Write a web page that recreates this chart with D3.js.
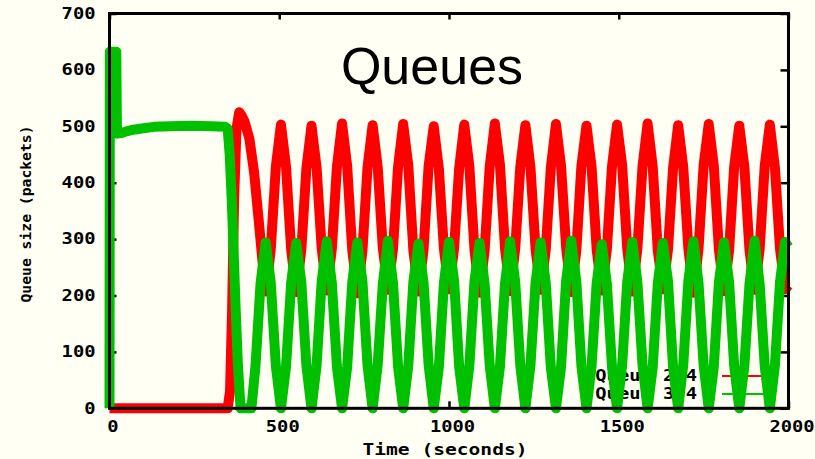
<!DOCTYPE html>
<html>
<head>
<meta charset="utf-8">
<title>Queues</title>
<style>
  body { margin: 0; background: #fffff4; }
  svg { display: block; background: #fffff4; }
  .lbl { font-family: "DejaVu Sans Mono", monospace; font-weight: bold; fill: #000; }
  .title { font-family: "Liberation Sans", Arial, sans-serif; font-size: 52px; fill: #000; }
</style>
</head>
<body>
<svg width="815" height="459"></svg>
<script src="https://cdn.jsdelivr.net/npm/d3@7/dist/d3.min.js"></script>
<script>
var yTicks = [0, 100, 200, 300, 400, 500, 600, 700];
var xTicks = [0, 500, 1000, 1500, 2000];
var seriesNames = ["Queue 2-4", "Queue 3-4"];
var seriesColors = ["#ff0000", "#00c000"];

// queue 2-4: idle, then jumps up when 3-4 collapses
var q24Start = [[0,0],[348,0],[355,30],[361,170],[367,370],[374,495],[382,525],[390,518],
  [398,508],[412,478],[426,418],[440,330],[452,252],[461,207],[475,282],[490,428]];
// queue 3-4: spike, flat at 500, then collapse
var q34Start = [[0,0],[1,632],[20,632],[22,487],[35,488],[50,491],[70,494],[95,496],[130,499],
  [180,500],[240,501],[300,500],[340,499],[348,496],[354,450],[360,370],[366,270],[372,170],
  [378,80],[386,0],[418,0],[430,75],[445,222],[460,294],[475,223],[490,75]];

// steady oscillation, sampled every 15 s
var steadyTimes = [
  505,520,535,550,565,580, 595,610,625,640,655,670, 685,700,715,730,745,760,
  775,790,805,820,835,850, 865,880,895,910,925,940, 955,970,985,1000,1015,1030,
  1045,1060,1075,1090,1105,1120, 1135,1150,1165,1180,1195,1210, 1225,1240,1255,1270,1285,1300,
  1315,1330,1345,1360,1375,1390, 1405,1420,1435,1450,1465,1480, 1495,1510,1525,1540,1555,1570,
  1585,1600,1615,1630,1645,1660, 1675,1690,1705,1720,1735,1750, 1765,1780,1795,1810,1825,1840,
  1855,1870,1885,1900,1915,1930, 1945,1960,1975,1990,2000];
var q24Steady = [
  503,428,282,206,281,426, 501,427,284,209,283,429, 505,430,281,204,279,427,
  502,428,285,210,282,428, 504,431,280,207,281,430, 500,426,283,211,284,426,
  503,429,281,205,280,429, 505,432,284,208,283,428, 502,427,282,210,281,427,
  504,430,285,206,279,430, 501,428,281,209,282,428, 503,431,283,207,284,429,
  505,429,280,211,281,426, 502,427,284,205,283,431, 504,430,282,208,280,428,
  501,428,281,210,282,430, 503,427,283,211,218];
var q34Steady = [
  0,74,222,293,224,75, 0,76,225,296,221,73, 0,73,223,294,225,76,
  0,77,220,297,222,74, 0,75,224,292,223,77, 0,72,222,295,226,73,
  0,76,225,293,220,75, 0,74,221,296,224,76, 0,77,223,294,222,72,
  0,73,226,297,225,75, 0,75,222,291,221,74, 0,76,224,295,223,77,
  0,72,221,293,226,73, 0,77,225,296,222,76, 0,74,223,294,224,75,
  0,75,220,297,221,74, 0,76,224,295,286];

var q24 = q24Start.concat(steadyTimes.map(function(t, i) { return [t, q24Steady[i]]; }));
var q34 = q34Start.concat(steadyTimes.map(function(t, i) { return [t, q34Steady[i]]; }));

var svg = d3.select("svg");
var plotL = 109.5, plotR = 788.5, plotT = 13.5, plotB = 408.3;

var x = d3.scaleLinear().domain([0, 2000]).range([plotL, plotR]);
var y = d3.scaleLinear().domain([0, 700]).range([plotB, plotT]);

// ticks (inward, mirrored) go under the data
function tickStyle(g) {
  g.select(".domain").remove();
  g.selectAll(".tick line").attr("stroke", "#000").attr("stroke-width", 2.5);
  g.selectAll(".tick text").attr("class", "lbl").style("font-size", "15px")
    .attr("lengthAdjust", "spacingAndGlyphs")
    .attr("textLength", function(d) { return String(d).length * 11.3; });
}

svg.append("g").attr("transform", "translate(" + plotL + ",0)")
  .call(d3.axisLeft(y).tickValues(yTicks).tickFormat(d3.format("d"))
    .tickSizeInner(-7).tickSizeOuter(0).tickPadding(14))
  .call(tickStyle);
svg.append("g").attr("transform", "translate(" + plotR + ",0)")
  .call(d3.axisRight(y).tickValues(yTicks).tickSizeInner(-8).tickSizeOuter(0).tickFormat(""))
  .call(tickStyle);
svg.append("g").attr("transform", "translate(0," + plotB + ")")
  .call(d3.axisBottom(x).tickValues(xTicks).tickFormat(d3.format("d"))
    .tickSizeInner(-7).tickSizeOuter(0).tickPadding(13))
  .call(tickStyle)
  .selectAll(".tick text").attr("dx", 3);
svg.append("g").attr("transform", "translate(0," + plotT + ")")
  .call(d3.axisTop(x).tickValues(xTicks).tickSizeInner(-6).tickSizeOuter(0).tickFormat(""))
  .call(tickStyle);

// title
svg.append("text").attr("class", "title")
  .attr("x", 432).attr("y", 84).attr("text-anchor", "middle").text("Queues");

// axis labels
svg.append("text").attr("class", "lbl").style("font-size", "15px")
  .attr("x", 445).attr("y", 455).attr("text-anchor", "middle")
  .attr("textLength", 165).attr("lengthAdjust", "spacingAndGlyphs")
  .text("Time (seconds)");
svg.append("text").attr("class", "lbl").style("font-size", "14px")
  .attr("transform", "translate(31,214) rotate(-90)").attr("text-anchor", "middle")
  .attr("textLength", 177).attr("lengthAdjust", "spacingAndGlyphs")
  .text("Queue size (packets)");

// legend (drawn before the data, so data covers it)
var legend = svg.append("g");
seriesNames.forEach(function(name, i) {
  var ly = 376 + i * 18;
  legend.append("text").attr("class", "lbl").style("font-size", "15px")
    .attr("x", 697).attr("y", ly).attr("dy", "0.36em").attr("text-anchor", "end")
    .attr("textLength", name.length * 11.3).attr("lengthAdjust", "spacingAndGlyphs")
    .text(name);
  legend.append("line").attr("x1", 722).attr("x2", 765).attr("y1", ly).attr("y2", ly)
    .attr("stroke", seriesColors[i]).attr("stroke-width", 2);
});

var line = d3.line()
  .x(function(d) { return x(d[0]); })
  .y(function(d) { return y(d[1]); });

[q24, q34].forEach(function(data, i) {
  svg.append("path")
    .datum(data)
    .attr("fill", "none")
    .attr("stroke", seriesColors[i])
    .attr("stroke-width", 10)
    .attr("stroke-linejoin", "round")
    .attr("d", line);
});

// border on top
svg.append("rect")
  .attr("x", plotL).attr("y", plotT)
  .attr("width", plotR - plotL).attr("height", plotB - plotT)
  .attr("fill", "none").attr("stroke", "#000").attr("stroke-width", 3);
</script>
</body>
</html>
